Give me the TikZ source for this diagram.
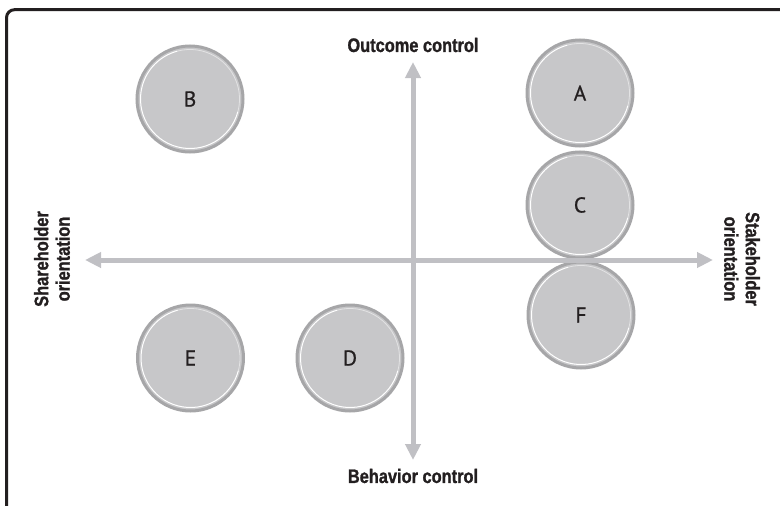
\documentclass[tikz,border=0pt]{standalone}
\usepackage{fontspec}
\setmainfont{Liberation Sans}
\newfontfamily\labfont{Liberation Sans}[FakeStretch=0.84, BoldFeatures={FakeBold=1.2}]
\newfontfamily\letfont{PT Sans}[FakeBold=0.7]
\usetikzlibrary{arrows.meta}
\definecolor{axisgray}{HTML}{C0C0C4}
\definecolor{circfill}{HTML}{C7C7C9}
\definecolor{circline}{HTML}{A6A6A8}
\definecolor{ink}{HTML}{231F20}
\tikzset{
  circ/.style={circle, minimum size=106pt, inner sep=0pt, fill=circfill, draw=circline, line width=3pt,
    text=ink, font=\letfont\fontsize{21.5}{23}\selectfont},
  ring/.style={white, line width=1pt},
  axislabel/.style={text=ink, font=\labfont\bfseries\fontsize{19.5}{21.5}\selectfont, align=center, inner sep=0pt},
  axis/.style={axisgray, line width=5pt, -{Triangle[length=16pt,width=15pt]}},
}
\begin{document}
\begin{tikzpicture}[x=1pt,y=-1pt]
\useasboundingbox (0,0) rectangle (780,506);
% frame
\draw[ink, line width=3pt, rounded corners=8pt] (6.5,506) -- (6.5,9.7) -- (782,9.7);
% circles
\node[circ] (B) at (190,99) {B};
\node[circ] (A) at (580,93) {A};
\node[circ] (C) at (580,205) {C};
\node[circ] (F) at (581,315) {F};
\node[circ] (E) at (190.5,358) {E};
\node[circ] (D) at (350,358) {D};
\foreach \n in {A,B,C,D,E,F}{
  \draw[ring] ([shift={(15:49.5)}]\n.center) arc[start angle=15, end angle=255, radius=49.5];
  \draw[white, opacity=0.5, line width=0.8pt] ([shift={(255:49.5)}]\n.center) arc[start angle=255, end angle=375, radius=49.5];
}
% labels
\node[axislabel] (top) at (413,45) {Outcome control};
\node[axislabel] (bot) at (413,476) {Behavior control};
\node[axislabel, rotate=90] (left) at (52,259) {Shareholder\\orientation};
\node[axislabel, rotate=-90] (right) at (742,259) {Stakeholder\\orientation};
% axes
\coordinate (O) at (413,260);
\coordinate (xl) at (85,260);
\coordinate (xr) at (713,260);
\coordinate (yt) at (413,62);
\coordinate (yb) at (413,460);
\draw[axis] (O) -- (xl);
\draw[axis] (O) -- (xr);
\draw[axis] (O) -- (yt);
\draw[axis] (O) -- (yb);
\end{tikzpicture}
\end{document}
